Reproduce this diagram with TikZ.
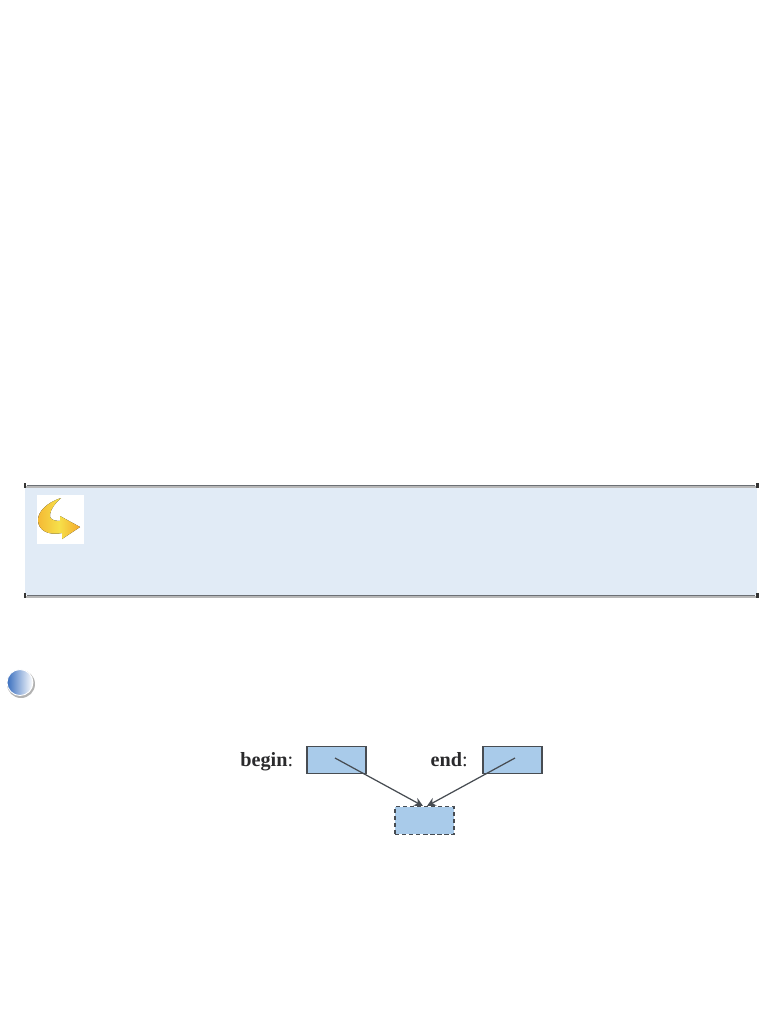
\documentclass[tikz,border=0pt]{standalone}
\usepackage{fontspec}
\setmainfont{Liberation Serif}
\usetikzlibrary{arrows.meta}
\definecolor{boxblue}{HTML}{A9CBEA}
\definecolor{panelblue}{HTML}{E1EBF6}
\definecolor{inkgrey}{HTML}{474C52}
\definecolor{labelgrey}{HTML}{2A2A2C}
\definecolor{bulletblue}{HTML}{3A6FBF}
\definecolor{iconyellow}{HTML}{F6E04A}
\definecolor{iconorange}{HTML}{F4A92C}
\begin{document}
\begin{tikzpicture}[x=0.02cm,y=-0.02cm,
% common options for the pointer boxes:
ptrbox/.style = {draw=inkgrey, fill=boxblue, line width=0.65pt, inner sep=0,
            minimum width=1.18cm, minimum height=0.55cm},
% common options for the labels:
ptrlabel/.style = {anchor=base east, inner sep=0, text=labelgrey, font=\fontsize{11.5}{13}\selectfont},
% the rules of the panel:
panelrule/.style = {draw=inkgrey!80, line width=0.7pt},
paneltick/.style = {fill=black!80, minimum width=0.06cm, minimum height=0.09cm, inner sep=0},
ptrline/.style = {draw=inkgrey, line width=0.7pt, -{Stealth[length=5pt,width=5pt]}}]
\useasboundingbox (0,0) rectangle (782,1012);
% panel
\node[fill=panelblue, inner sep=0, minimum width=14.64cm, minimum height=2.18cm] (panel) at (391,541) {};
\draw[black!28, line width=0.8pt] (25,487) -- (757,487);
\draw[black!28, line width=0.8pt] (25,597) -- (757,597);
\node[paneltick] (tickTL) at (25,485.5) {};
\node[paneltick] (tickTR) at (757,485.5) {};
\node[paneltick] (tickBL) at (25,595.5) {};
\node[paneltick] (tickBR) at (757,595.5) {};
\draw[panelrule] (tickTL) -- (tickTR);
\draw[panelrule] (tickBL) -- (tickBR);
% icon
\node[fill=white, inner sep=0, minimum width=0.94cm, minimum height=0.98cm] (icon) at (60.5,519.5) {};
\fill[left color=iconorange!70!iconyellow, right color=iconorange, middle color=iconyellow]
  (61,498) .. controls (46,503) and (38,512) .. (38,520)
  .. controls (38,530) and (48,536) .. (62,533)
  -- (62,539) -- (80,527) -- (60,516) -- (60,521)
  .. controls (53,521) and (49,519) .. (50,514)
  .. controls (51,509) and (55,503) .. (61,498) -- cycle;
% bullet
\fill[black!30] (21,684) circle (14);
\shade[left color=bulletblue, right color=white, draw=white, line width=0.5pt] (20,682.5) circle (13);
% pointers
\node[ptrbox] (begin) at (336.5,760) {};
\node[ptrbox] (end) at (512.5,760) {};
\node[ptrbox, dash pattern=on 2.5pt off 1.5pt] (tmp) at (424.5,820.5) {};
\coordinate (beginstart) at (335,758);
\coordinate (endstart) at (515,758);
\coordinate (beginstop) at (423,806);
\coordinate (endstop) at (427,806);
\node[ptrlabel] (beginlbl) at (293.5,766) {\textbf{begin}:};
\node[ptrlabel] (endlbl) at (468,766) {\textbf{end}:};
\draw[ptrline] (beginstart) to (beginstop);
\draw[ptrline] (endstart) to (endstop);
\end{tikzpicture}
\end{document}
